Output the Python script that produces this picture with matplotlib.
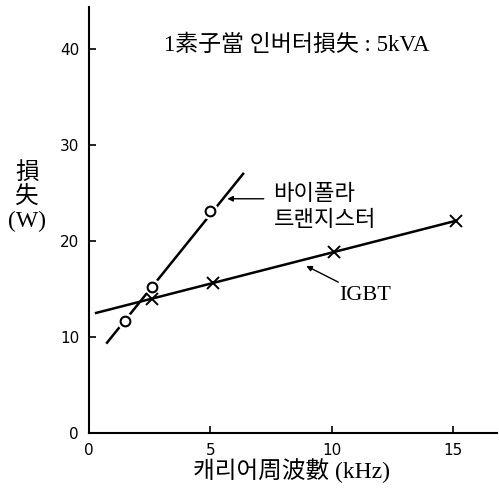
import matplotlib
matplotlib.use('Agg')
import matplotlib.pyplot as plt

# measured losses per device
bipolar_freq = [1.5, 2.6, 5.0]
bipolar_loss = [11.7, 15.2, 23.1]
bipolar_fit_freq = [0.75, 6.35]
bipolar_fit_loss = [9.4, 27.0]

igbt_freq = [2.6, 5.1, 10.1, 15.1]
igbt_loss = [14.0, 15.6, 18.9, 22.1]
igbt_fit_freq = [0.3, 15.1]
igbt_fit_loss = [12.5, 22.1]

x_ticks = [0, 5, 10, 15]
y_ticks = [0, 10, 20, 30, 40]

serif_kr = ['Liberation Serif', 'Noto Sans CJK KR']
sans_kr = ['Noto Sans CJK KR', 'DejaVu Sans']

fig = plt.figure(figsize=(4.99, 4.93), dpi=100)
ax = fig.add_axes([0.178, 0.122, 0.818, 0.864])

ax.plot(bipolar_fit_freq, bipolar_fit_loss, color='black', lw=1.8, zorder=2)
ax.plot(igbt_fit_freq, igbt_fit_loss, color='black', lw=1.8, zorder=2)

ax.plot(bipolar_freq, bipolar_loss, ls='none', marker='o', ms=11, mfc='white', mec='white', zorder=3)
ax.plot(bipolar_freq, bipolar_loss, ls='none', marker='o', ms=7, mfc='white', mec='black', mew=1.5, zorder=4)
ax.plot(igbt_freq, igbt_loss, ls='none', marker='x', ms=9, mec='black', mew=1.4, zorder=4)

ax.set_xlim(0, 16.8)
ax.set_ylim(0, 44.4)
ax.set_xticks(x_ticks)
ax.set_yticks(y_ticks)
ax.tick_params(direction='in', length=5, width=1.2, labelsize=11, pad=7)
for s in ['top', 'right']:
    ax.spines[s].set_visible(False)
for s in ['left', 'bottom']:
    ax.spines[s].set_linewidth(1.5)

ax.text(8.55, 40.4, '1素子當 인버터損失 : 5kVA', family=serif_kr, fontsize=16.5,
        ha='center', va='center')

ax.annotate('', xy=(5.7, 24.4), xytext=(7.2, 24.4),
            arrowprops=dict(arrowstyle='-|>', color='black', lw=1.0,
                            mutation_scale=8, shrinkA=0, shrinkB=0))
ax.text(7.6, 23.6, '바이폴라\n트랜지스터', family=sans_kr, fontsize=16,
        ha='left', va='center', linespacing=1.15)

ax.annotate('IGBT', xy=(8.95, 17.4), xytext=(10.3, 14.3),
            family=serif_kr, fontsize=16, ha='left', va='center',
            arrowprops=dict(arrowstyle='-|>', color='black', lw=1.0,
                            mutation_scale=8, shrinkA=2, shrinkB=0))

fig.text(0.054, 0.60, '損\n失\n(W)', family=serif_kr, fontsize=17,
         ha='center', va='center', linespacing=1.15)
fig.text(0.585, 0.045, '캐리어周波數 (kHz)', family=serif_kr, fontsize=17,
         ha='center', va='center')

fig.savefig('out.png', dpi=100)
